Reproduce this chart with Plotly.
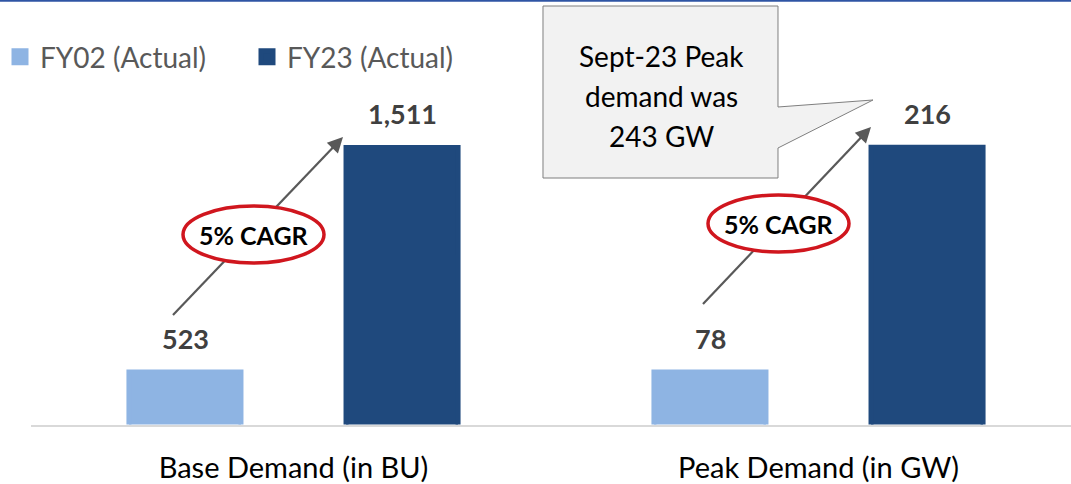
import plotly.graph_objects as go

# ---- data ----
categories = ["Base Demand (in BU)", "Peak Demand (in GW)"]
series_names = ["FY02 (Actual)", "FY23 (Actual)"]
fy02_values = [523, 78]
fy23_values = [1511, 216]
value_labels_fy02 = ["523", "78"]
value_labels_fy23 = ["1,511", "216"]
cagr_labels = ["5% CAGR", "5% CAGR"]
callout_lines = ["Sept-23 Peak", "demand was", "243 GW"]

# per-panel y ranges (each category on its own value scale)
y_ranges = [[292.5, 2159], [45.8, 306.5]]

W, H = 1071, 484
FONT = "Lato"
LIGHT = "#8EB4E3"
DARK = "#1F497D"


def px(x):
    return x / W


def py(y):
    return 1 - y / H


fig = go.Figure()
axes = [("x", "y"), ("x2", "y2")]
for i, cat in enumerate(categories):
    xa, ya = axes[i]
    fig.add_trace(go.Bar(
        x=[cat], y=[fy02_values[i]], name=series_names[0],
        marker=dict(color=LIGHT, line=dict(width=5, color=LIGHT)),
        xaxis=xa, yaxis=ya, showlegend=(i == 0), legendgroup="a",
        hoverinfo="skip"))
    fig.add_trace(go.Bar(
        x=[cat], y=[fy23_values[i]], name=series_names[1],
        marker=dict(color=DARK, line=dict(width=5, color=DARK)),
        xaxis=xa, yaxis=ya, showlegend=(i == 0), legendgroup="b",
        hoverinfo="skip"))

bottom = 1 - 424.5 / H
common_x = dict(showgrid=False, zeroline=False, showline=True, linecolor="#D9D9D9",
                linewidth=1.5, ticks="", tickfont=dict(family=FONT, size=29, color="#000000"),
                ticklabelstandoff=17, fixedrange=True, automargin=False)
common_y = dict(showgrid=False, zeroline=False, showline=False, showticklabels=False,
                fixedrange=True, automargin=False)

fig.update_layout(
    width=W, height=H,
    margin=dict(l=0, r=0, t=0, b=0, autoexpand=False),
    paper_bgcolor="white", plot_bgcolor="white",
    barmode="group", bargap=0.173, bargroupgap=0.4839,
    xaxis=dict(domain=[31 / W, 556 / W], range=[-0.5, 0.5], anchor="y", **common_x),
    xaxis2=dict(domain=[556 / W, 1], range=[-0.5, 0.5 - 10 / 525], anchor="y2", **common_x),
    yaxis=dict(domain=[bottom, 1], range=y_ranges[0], anchor="x", **common_y),
    yaxis2=dict(domain=[bottom, 1], range=y_ranges[1], anchor="x2", **common_y),
    legend=dict(orientation="h", xref="paper", yref="paper",
                x=0.0, y=py(57), xanchor="left", yanchor="middle",
                entrywidth=202, entrywidthmode="pixels",
                font=dict(family=FONT, size=28, color="#595959"),
                bgcolor="rgba(0,0,0,0)", itemclick=False, itemdoubleclick=False,
                traceorder="normal"),
    font=dict(family=FONT),
)

# top rule
fig.add_shape(type="line", xref="paper", yref="paper", x0=0, x1=1, y0=py(0.8), y1=py(0.8),
              line=dict(color="#2F55A4", width=2))

# value labels above bars
for i, cat in enumerate(categories):
    xa, ya = axes[i]
    fig.add_annotation(x=cat, y=fy02_values[i], xref=xa, yref=ya, text=value_labels_fy02[i],
                       showarrow=False, xshift=-108.5, yshift=33.5, xanchor="center", yanchor="middle",
                       font=dict(family=FONT, size=27, color="#404040", weight="bold"))
    fig.add_annotation(x=cat, y=fy23_values[i], xref=xa, yref=ya, text=value_labels_fy23[i],
                       showarrow=False, xshift=108.5, yshift=33.5, xanchor="center", yanchor="middle",
                       font=dict(family=FONT, size=27, color="#404040", weight="bold"))

# CAGR arrows: line shapes first, then ellipses on top
arrows = [((173, 315), (343, 137)), ((703, 304), (871, 127))]
ellipses = [(183, 206, 324, 263), (708, 195, 849, 252)]
for (s, e) in arrows:
    fig.add_shape(type="line", xref="paper", yref="paper",
                  x0=px(s[0]), y0=py(s[1]), x1=px(e[0] - 6), y1=py(e[1] + 6.3),
                  line=dict(color="#595959", width=2.2))
for (x0, y0, x1, y1), lab in zip(ellipses, cagr_labels):
    fig.add_shape(type="circle", xref="paper", yref="paper",
                  x0=px(x0), y0=py(y0), x1=px(x1), y1=py(y1),
                  line=dict(color="#D0161E", width=3.5), fillcolor="white")
    fig.add_annotation(x=px((x0 + x1) / 2), y=py((y0 + y1) / 2), xref="paper", yref="paper",
                       text=lab, showarrow=False, xanchor="center", yanchor="middle",
                       font=dict(family=FONT, size=25, color="#000000", weight="bold"))
for (s, e) in arrows:
    dx, dy = s[0] - e[0], s[1] - e[1]
    L = (dx * dx + dy * dy) ** 0.5
    fig.add_annotation(x=px(e[0]), y=py(e[1]), xref="paper", yref="paper",
                       ax=dx / L * 18, ay=dy / L * 18, axref="pixel", ayref="pixel",
                       showarrow=True, arrowhead=2, arrowsize=1.4, arrowwidth=2.2,
                       arrowcolor="#595959", text="")

# callout box with pointer
pts = [(543, 6), (778, 6), (778, 107), (873, 100), (778, 148), (778, 178), (543, 178)]
path = "M " + " L ".join(f"{px(x):.5f},{py(y):.5f}" for x, y in pts) + " Z"
fig.add_shape(type="path", xref="paper", yref="paper", path=path,
              fillcolor="#F2F2F2", line=dict(color="#7F7F7F", width=1))
for j, line in enumerate(callout_lines):
    fig.add_annotation(x=px(661), y=py(56 + 40 * j), xref="paper", yref="paper",
                       text=line, showarrow=False, xanchor="center", yanchor="middle",
                       font=dict(family=FONT, size=28, color="#000000"))

fig.write_html("out.html", config={"displayModeBar": False},
               post_script="document.body.style.margin='0';document.body.style.overflow='hidden';")
